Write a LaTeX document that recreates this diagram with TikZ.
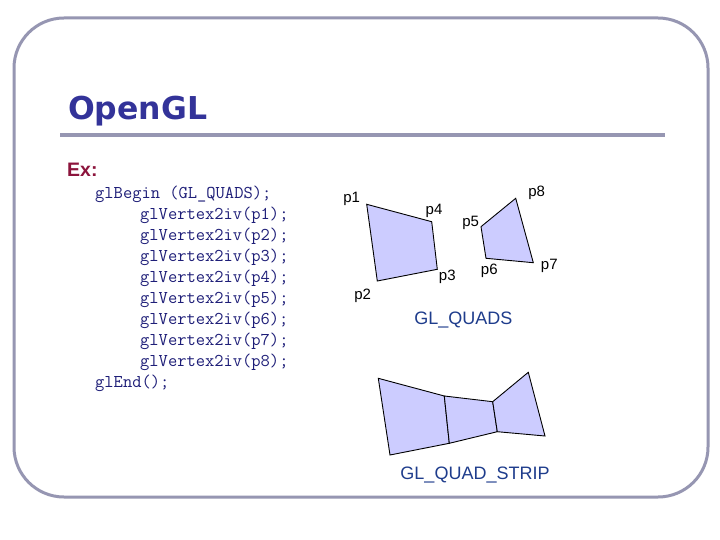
\documentclass[tikz,border=0pt]{standalone}
\usepackage{fontspec}
\setmainfont{Liberation Sans}
\newfontfamily\titlefont{DejaVu Sans}
\definecolor{framecol}{RGB}{150,150,178}
\definecolor{titlecol}{RGB}{51,51,153}
\definecolor{excol}{RGB}{140,20,60}
\definecolor{codecol}{RGB}{30,30,120}
\definecolor{capcol}{RGB}{30,60,140}
\definecolor{quadfill}{RGB}{204,204,255}
\begin{document}
\begin{tikzpicture}[x=1pt,y=-1pt,
  codeline/.style={anchor=base west,inner sep=0pt,text=codecol,font=\ttfamily\fontsize{18}{20}\selectfont},
  plabel/.style={inner sep=0pt,font=\fontsize{15}{18}\selectfont},
  caption/.style={inner sep=0pt,text=capcol,font=\fontsize{18}{21}\selectfont},
  quad/.style={draw=black,fill=quadfill,line width=0.9pt,line join=miter}]
\useasboundingbox (0,0) rectangle (720,540);
\fill[white] (0,0) rectangle (720,540);
% frame
\draw[framecol,line width=3pt,rounded corners=50pt] (14,18) rectangle (708,497);
% title
\node[anchor=base west,inner sep=0pt,text=titlecol,font=\titlefont\bfseries\fontsize{31.5}{38}\selectfont] (title) at (68,120) {OpenGL};
\draw[framecol,line width=4pt] (60,135) -- (665,135);
\node[anchor=base west,inner sep=0pt,text=excol,font=\bfseries\fontsize{19.5}{23}\selectfont] (ex) at (67,177) {Ex:};
% code
\node[codeline] (c0) at (95,198.5) {glBegin (GL\_QUADS);};
\foreach \i in {1,...,8} {
  \node[codeline] (c\i) at (140,198.5+21*\i) {glVertex2iv(p\i);};
}
\node[codeline] (c9) at (95,387.5) {glEnd();};
% GL_QUADS
\coordinate (p1) at (366.7,204.3);
\coordinate (p2) at (377.3,281);
\coordinate (p3) at (437.3,269.3);
\coordinate (p4) at (431.7,221.7);
\coordinate (p5) at (481,226.7);
\coordinate (p6) at (486,258.3);
\coordinate (p7) at (533.3,262.7);
\coordinate (p8) at (515.7,198.3);
\draw[quad] (p1) -- (p2) -- (p3) -- (p4) -- cycle;
\draw[quad] (p5) -- (p6) -- (p7) -- (p8) -- cycle;
\node[plabel] (l1) at (351.7,199.3) {p1};
\node[plabel] (l2) at (362.7,295.7) {p2};
\node[plabel] (l3) at (447.3,276.7) {p3};
\node[plabel] (l4) at (434,211) {p4};
\node[plabel] (l5) at (470.7,222.7) {p5};
\node[plabel] (l6) at (489.3,270.7) {p6};
\node[plabel] (l7) at (549.3,265.7) {p7};
\node[plabel] (l8) at (536.7,192.7) {p8};
\node[caption] (cap1) at (463.3,320) {GL\_QUADS};
% GL_QUAD_STRIP
\coordinate (s1) at (378.3,378.3);
\coordinate (s2) at (390,455);
\coordinate (s3) at (444.3,396);
\coordinate (s4) at (449.3,443.3);
\coordinate (s5) at (492.7,401.7);
\coordinate (s6) at (497.3,431.7);
\coordinate (s7) at (528.3,372.3);
\coordinate (s8) at (545,436);
\draw[quad] (s1) -- (s2) -- (s4) -- (s3) -- cycle;
\draw[quad] (s3) -- (s4) -- (s6) -- (s5) -- cycle;
\draw[quad] (s5) -- (s6) -- (s8) -- (s7) -- cycle;
\node[caption] (cap2) at (475,475) {GL\_QUAD\_STRIP};
\end{tikzpicture}
\end{document}
